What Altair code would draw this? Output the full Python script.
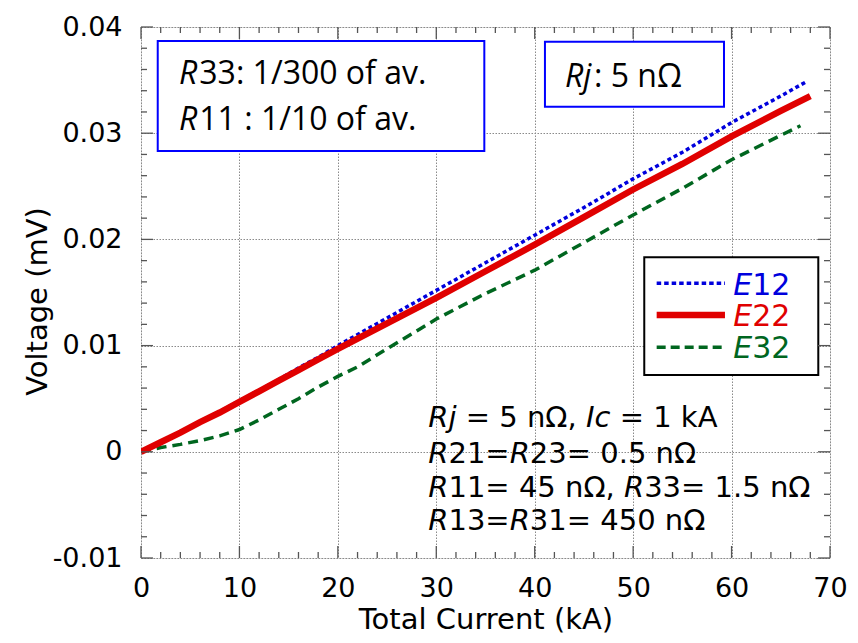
import altair as alt
import pandas as pd

# ---------------- data ----------------
x_e12 = [0, 2, 4, 6, 8, 10, 12, 14, 16, 18, 20, 25, 30, 35, 40, 45, 50, 55, 60, 65, 67.5]
y_e12 = [0, 0.0009, 0.0019, 0.0028, 0.0038, 0.0048, 0.0058, 0.0068, 0.0079, 0.0089, 0.0100,
         0.0126, 0.0152, 0.0178, 0.0204, 0.0230, 0.0257, 0.0282, 0.0310, 0.0335, 0.0348]
x_e22 = [0, 2, 4, 6, 8, 10, 12, 14, 16, 18, 20, 25, 30, 35, 40, 45, 50, 55, 60, 65, 68]
y_e22 = [0, 0.0009, 0.0018, 0.0028, 0.0037, 0.0047, 0.0057, 0.0067, 0.0077, 0.0087, 0.0097,
         0.0121, 0.0145, 0.0170, 0.0195, 0.0221, 0.0247, 0.0271, 0.0297, 0.0321, 0.0335]
x_e32 = [0, 2, 4, 6, 8, 10, 12, 14, 16, 18, 20, 22, 25, 30, 35, 40, 45, 50, 55, 60, 65, 67]
y_e32 = [0, 0.0004, 0.0007, 0.00105, 0.0015, 0.0021, 0.0030, 0.0040, 0.0050, 0.0061, 0.0071,
         0.0080, 0.0097, 0.0125, 0.0149, 0.0171, 0.0197, 0.0223, 0.0248, 0.0275, 0.0298, 0.0307]

x_ticks = [0, 10, 20, 30, 40, 50, 60, 70]
y_ticks = [-0.01, 0, 0.01, 0.02, 0.03, 0.04]
x_minor = [v for v in range(2, 70, 2) if v % 10 != 0]
y_minor = [round(-0.01 + 0.002 * i, 3) for i in range(26) if i % 5 != 0]

legend_names = ["12", "22", "32"]
legend_colors = ["#0000dd", "#e00000", "#00661f"]

# ---------------- layout ----------------
W, H = 689, 531
PX_X = W / 70.0
xs = alt.Scale(domain=[0, 70], nice=False, zero=False)
ys = alt.Scale(domain=[-0.01, 0.04], nice=False, zero=False)
FONT = "DejaVu Sans"
BOXFONT = "Open Sans"

XA = alt.Axis(values=x_ticks, title="Total Current (kA)", grid=True, ticks=False, tickSize=0,
              domain=False, labelFont=FONT, labelFontSize=27, labelColor="black", labelFlush=False,
              labelPadding=17, titleFont=FONT, titleFontSize=29, titleFontWeight="normal",
              titleColor="black", titleBaseline="alphabetic", titleY=70, titleX=W / 2,
              gridColor="#8a8a8a", gridDash=[1.5, 1.5], gridWidth=1)
YA = alt.Axis(values=y_ticks, title="Voltage (mV)", grid=True, ticks=False, tickSize=0,
              domain=False, labelFont=FONT, labelFontSize=27, labelColor="black", labelFlush=False,
              labelPadding=19,
              labelExpr="datum.value == 0 ? '0' : (datum.value < 0 ? '-' + format(-datum.value, '.2f') : format(datum.value, '.2f'))",
              titleFont=FONT, titleFontSize=29, titleFontWeight="normal", titleColor="black",
              titleAngle=270, titleBaseline="bottom", titleAlign="center", titleX=-89, titleY=274,
              gridColor="#8a8a8a", gridDash=[1.5, 1.5], gridWidth=1)


def X(field):
    return alt.X(field, scale=xs, axis=XA)


def Y(field):
    return alt.Y(field, scale=ys, axis=YA)


DV = {'R': .695, 'j': .278, ' ': .318, '=': .838, '5': .636, 'n': .634, 'Ω': .764, ',': .318,
      'I': .295, 'c': .550, '1': .636, 'k': .579, 'A': .684, '2': .636, '3': .636, '0': .636,
      '.': .318, '4': .636, 'E': .632}
OS = {'R': .634, 'j': .272, ' ': .26}


def segs(parts, x0, y, size, widths, color="black"):
    rows, off = [], 0.0
    for text, ital in parts:
        lead = len(text) - len(text.lstrip(" "))
        start = off + lead * widths.get(' ', 0.3) * size
        rows.append({"x": x0 + start / PX_X, "y": y, "t": text.strip(" "), "it": ital, "c": color})
        off += sum(widths.get(ch, 0.6) for ch in text) * size
    return rows


def line_layer(xv, yv, color, width, dash=None):
    df = pd.DataFrame({"x": xv, "y": yv})
    kw = dict(color=color, strokeWidth=width, clip=True)
    if dash:
        kw["strokeDash"] = dash
    return alt.Chart(df).mark_line(**kw).encode(x=X("x:Q"), y=Y("y:Q"))


def tick_layer(vals, axis, a, b):
    df = pd.DataFrame({"v": vals})
    if axis == "x":
        enc = dict(x=X("v:Q"), y=alt.value(a), y2=alt.value(b))
    else:
        enc = dict(y=Y("v:Q"), x=alt.value(a), x2=alt.value(b))
    return alt.Chart(df).mark_rule(color="#555555", strokeWidth=1.3).encode(**enc)


# boxes
blue_boxes = pd.DataFrame({"x": [1.70, 41.04], "x2": [34.88, 59.23],
                           "y": [0.03868, 0.03862], "y2": [0.02832, 0.03250]})
leg_box = pd.DataFrame({"x": [51.13], "x2": [68.81], "y": [0.01831], "y2": [0.00723]})


def rect_layer(df, stroke):
    return alt.Chart(df).mark_rect(fill="white", stroke=stroke, strokeWidth=2).encode(
        x=X("x:Q"), x2="x2:Q", y=Y("y:Q"), y2="y2:Q")


# legend sample lines
leg_y = [0.01587, 0.01288, 0.00984]
leg_dash = [[4.5, 3], None, [9, 5]]
leg_w = [3.5, 6.5, 3.5]


def leg_rule(i):
    df = pd.DataFrame({"x": [52.39], "x2": [59.33], "y": [leg_y[i]]})
    kw = dict(color=legend_colors[i], strokeWidth=leg_w[i])
    if leg_dash[i]:
        kw["strokeDash"] = leg_dash[i]
    return alt.Chart(df).mark_rule(**kw).encode(x=X("x:Q"), x2="x2:Q", y=Y("y:Q"))


# text annotations
note_rows = []
note_rows += segs([("Rj", True), (" = 5 nΩ, ", False), ("Ic", True), (" = 1 kA", False)], 29.19, 0.002364, 29, DV)
note_rows += segs([("R", True), ("21=", False), ("R", True), ("23= 0.5 nΩ", False)], 29.19, -0.001083, 29, DV)
note_rows += segs([("R", True), ("11= 45 nΩ, ", False), ("R", True), ("33= 1.5 nΩ", False)], 29.19, -0.004228, 29, DV)
note_rows += segs([("R", True), ("13=", False), ("R", True), ("31= 450 nΩ", False)], 29.19, -0.007363, 29, DV)

leg_text_y = [0.01476, 0.01185, 0.00880]
leg_rows = []
for i in range(3):
    leg_rows += segs([("E", True), (legend_names[i], False)], 60.17, leg_text_y[i], 30, DV, legend_colors[i])

box_rows = []
box_rows += segs([("R", True), ("33: 1/300 of av.", False)], 3.86, 0.03463, 32, OS)
box_rows += segs([("R", True), ("11 : 1/10 of av.", False)], 3.86, 0.03030, 32, OS)
box_rows += segs([("Rj", True), (": 5 nΩ", False)], 43.07, 0.03435, 32, OS)


def text_layer(rows, font, size, italic):
    df = pd.DataFrame([r for r in rows if r["it"] == italic])
    kw = dict(font=font, fontSize=size, align="left", baseline="alphabetic")
    if italic:
        kw["fontStyle"] = "italic"
    return alt.Chart(df).mark_text(**kw).encode(
        x=X("x:Q"), y=Y("y:Q"), text="t:N", color=alt.Color("c:N", scale=None))


layers = [
    line_layer(x_e12, y_e12, "#0000dd", 3.5, [4, 3]),
    line_layer(x_e32, y_e32, "#00661f", 3.5, [10, 6]),
    line_layer(x_e22, y_e22, "#e00000", 6.5),
    rect_layer(blue_boxes, "#0000ff"),
    rect_layer(leg_box, "black"),
    leg_rule(0), leg_rule(1), leg_rule(2),
    tick_layer(x_ticks, "x", H, H - 12), tick_layer(x_minor, "x", H, H - 6),
    tick_layer(x_ticks, "x", 0, 12), tick_layer(x_minor, "x", 0, 6),
    tick_layer(y_ticks, "y", 0, 12), tick_layer(y_minor, "y", 0, 6),
    tick_layer(y_ticks, "y", W, W - 12), tick_layer(y_minor, "y", W, W - 6),
    text_layer(note_rows, FONT, 29, False), text_layer(note_rows, FONT, 29, True),
    text_layer(leg_rows, FONT, 30, False), text_layer(leg_rows, FONT, 30, True),
    text_layer(box_rows, BOXFONT, 32, False), text_layer(box_rows, BOXFONT, 32, True),
]

chart = alt.layer(*layers).properties(
    width=W, height=H,
    autosize=alt.AutoSizeParams(type="none"),
    padding={"left": 133, "top": 19, "right": 20, "bottom": 77},
).configure_view(stroke="#555555", strokeWidth=2).configure(background="white")

chart.save("out.html", embed_options={"renderer": "svg", "actions": False})
